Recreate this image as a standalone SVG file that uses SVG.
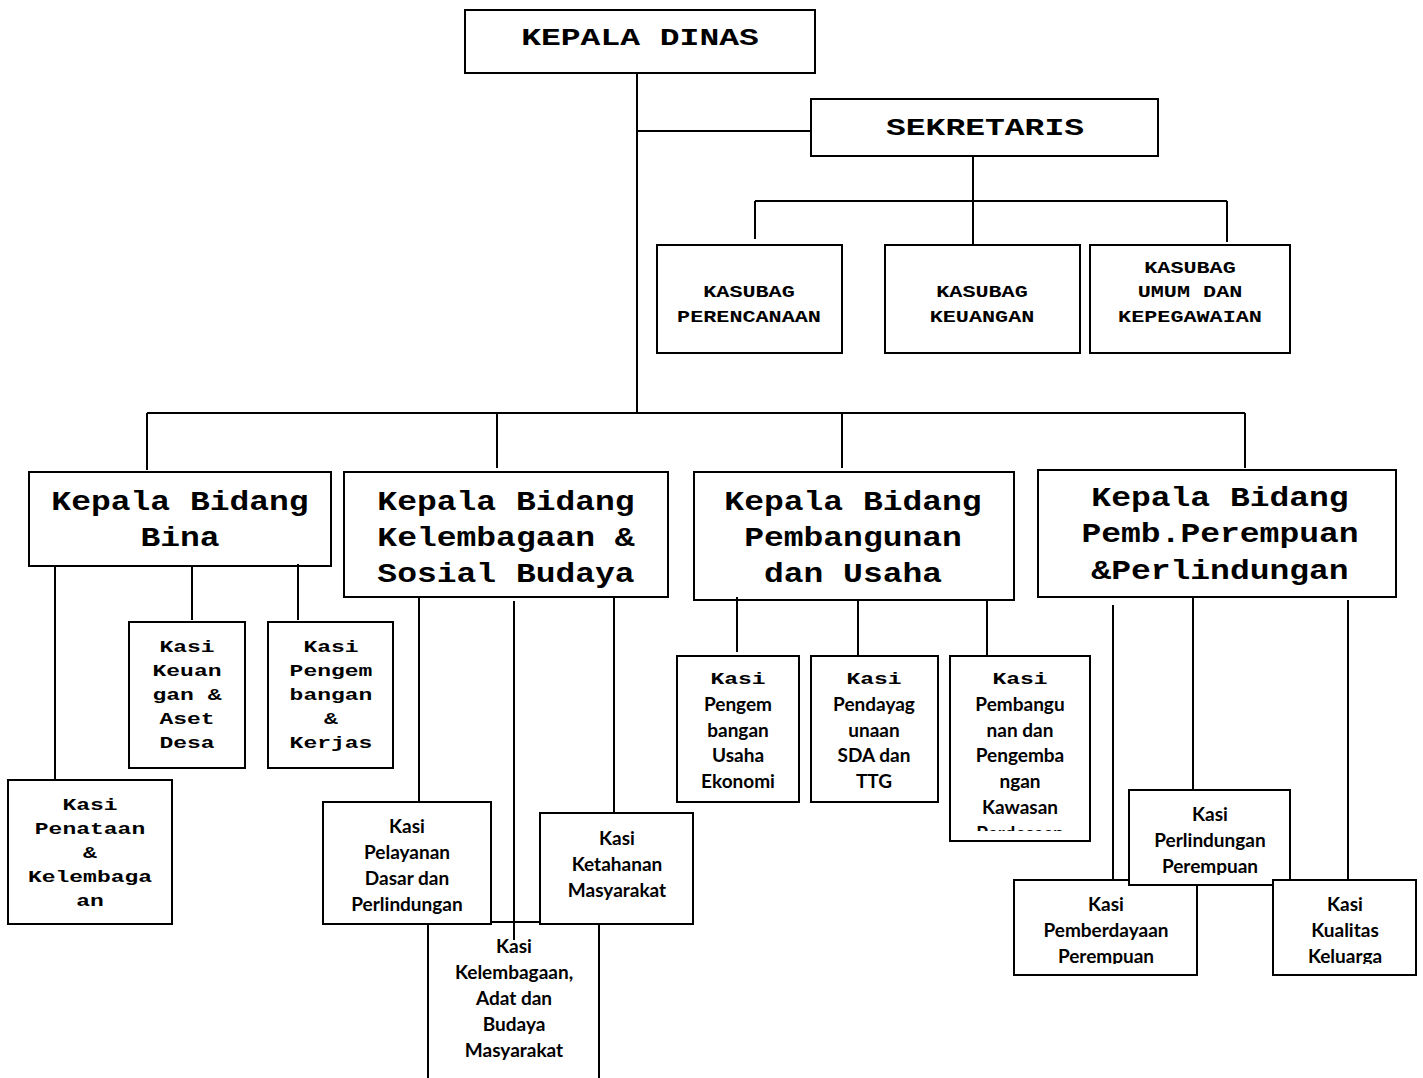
<svg xmlns="http://www.w3.org/2000/svg" width="1423" height="1078" viewBox="0 0 1423 1078">
<style>
.box{fill:#fff;stroke:#000;stroke-width:2}
.ln{stroke:#000;stroke-width:2;fill:none}
text{fill:#000;text-anchor:middle}
.m1{font-family:"Liberation Mono",monospace;font-weight:bold;font-size:33px}
.m2{font-family:"Liberation Mono",monospace;font-weight:bold;font-size:33px}
.m3{font-family:"Liberation Mono",monospace;font-weight:bold;font-size:21.8px}
.m4{font-family:"Liberation Mono",monospace;font-weight:bold;font-size:23px}
.c{font-family:Lato,"Liberation Sans",sans-serif;font-weight:bold;font-size:19px}
</style>
<defs>
<clipPath id="clipKaw"><rect x="950" y="656" width="140" height="175"/></clipPath>
<clipPath id="clipPerl"><rect x="1129" y="790" width="161" height="85"/></clipPath>
<clipPath id="clipPemb"><rect x="1014" y="880" width="183" height="84"/></clipPath>
<clipPath id="clipKual"><rect x="1273" y="880" width="143" height="84"/></clipPath>
</defs>

<g id="kepala-dinas">
<rect class="box" x="465" y="10" width="350" height="63"/>
<text class="m1" transform="translate(640 45) scale(1 .75)">KEPALA DINAS</text>
</g>
<g id="sekretaris">
<rect class="box" x="811" y="99" width="347" height="57"/>
<text class="m1" transform="translate(985 135) scale(1 .75)">SEKRETARIS</text>
</g>
<g id="kasubag-perencanaan">
<rect class="box" x="657" y="245" width="185" height="108"/>
<text class="m3" transform="translate(749 297) scale(1 .75)">KASUBAG</text>
<text class="m3" transform="translate(749 322) scale(1 .75)">PERENCANAAN</text>
</g>
<g id="kasubag-keuangan">
<rect class="box" x="885" y="245" width="195" height="108"/>
<text class="m3" transform="translate(982 297) scale(1 .75)">KASUBAG</text>
<text class="m3" transform="translate(982 322) scale(1 .75)">KEUANGAN</text>
</g>
<g id="kasubag-umum">
<rect class="box" x="1090" y="245" width="200" height="108"/>
<text class="m3" transform="translate(1190 273) scale(1 .75)">KASUBAG</text>
<text class="m3" transform="translate(1190 297) scale(1 .75)">UMUM DAN</text>
<text class="m3" transform="translate(1190 322) scale(1 .75)">KEPEGAWAIAN</text>
</g>

<g id="kabid-bina">
<rect class="box" x="29" y="472" width="302" height="94"/>
<text class="m2" transform="translate(180 510) scale(1 .82)">Kepala Bidang</text>
<text class="m2" transform="translate(180 546) scale(1 .82)">Bina</text>
</g>
<g id="kabid-kelembagaan">
<rect class="box" x="344" y="472" width="324" height="125"/>
<text class="m2" transform="translate(506 510) scale(1 .82)">Kepala Bidang</text>
<text class="m2" transform="translate(506 546) scale(1 .82)">Kelembagaan &amp;</text>
<text class="m2" transform="translate(506 582) scale(1 .82)">Sosial Budaya</text>
</g>
<g id="kabid-pembangunan">
<rect class="box" x="694" y="472" width="320" height="128"/>
<text class="m2" transform="translate(853 510) scale(1 .82)">Kepala Bidang</text>
<text class="m2" transform="translate(853 546) scale(1 .82)">Pembangunan</text>
<text class="m2" transform="translate(853 582) scale(1 .82)">dan Usaha</text>
</g>
<g id="kabid-perempuan">
<rect class="box" x="1038" y="470" width="358" height="127"/>
<text class="m2" transform="translate(1220 506) scale(1 .82)">Kepala Bidang</text>
<text class="m2" transform="translate(1220 542) scale(1 .82)">Pemb.Perempuan</text>
<text class="m2" transform="translate(1220 579) scale(1 .82)">&amp;Perlindungan</text>
</g>

<g id="kasi-keuangan">
<rect class="box" x="129" y="622" width="116" height="146"/>
<text class="m4" transform="translate(187 652) scale(1 .7)">Kasi</text>
<text class="m4" transform="translate(187 676) scale(1 .7)">Keuan</text>
<text class="m4" transform="translate(187 700) scale(1 .7)">gan &amp;</text>
<text class="m4" transform="translate(187 724) scale(1 .7)">Aset</text>
<text class="m4" transform="translate(187 748) scale(1 .7)">Desa</text>
</g>
<g id="kasi-pengembangan-kerjas">
<rect class="box" x="268" y="622" width="125" height="146"/>
<text class="m4" transform="translate(331 652) scale(1 .7)">Kasi</text>
<text class="m4" transform="translate(331 676) scale(1 .7)">Pengem</text>
<text class="m4" transform="translate(331 700) scale(1 .7)">bangan</text>
<text class="m4" transform="translate(331 724) scale(1 .7)">&amp;</text>
<text class="m4" transform="translate(331 748) scale(1 .7)">Kerjas</text>
</g>
<g id="kasi-penataan">
<rect class="box" x="8" y="780" width="164" height="144"/>
<text class="m4" transform="translate(90 810) scale(1 .7)">Kasi</text>
<text class="m4" transform="translate(90 834) scale(1 .7)">Penataan</text>
<text class="m4" transform="translate(90 858) scale(1 .7)">&amp;</text>
<text class="m4" transform="translate(90 882) scale(1 .7)">Kelembaga</text>
<text class="m4" transform="translate(90 906) scale(1 .7)">an</text>
</g>

<g id="kasi-kelembagaan-adat">
<rect class="box" x="428" y="922" width="171" height="180"/>
<text class="c" x="514" y="953">Kasi</text>
<text class="c" x="514" y="979">Kelembagaan,</text>
<text class="c" x="514" y="1005">Adat dan</text>
<text class="c" x="514" y="1031">Budaya</text>
<text class="c" x="514" y="1057">Masyarakat</text>
</g>
<g id="kasi-pelayanan">
<rect class="box" x="323" y="802" width="168" height="122"/>
<text class="c" x="407" y="833">Kasi</text>
<text class="c" x="407" y="859">Pelayanan</text>
<text class="c" x="407" y="885">Dasar dan</text>
<text class="c" x="407" y="911">Perlindungan</text>
</g>
<g id="kasi-ketahanan">
<rect class="box" x="540" y="813" width="153" height="111"/>
<text class="c" x="617" y="845">Kasi</text>
<text class="c" x="617" y="871">Ketahanan</text>
<text class="c" x="617" y="897">Masyarakat</text>
</g>

<g id="kasi-pengembangan-usaha">
<rect class="box" x="677" y="656" width="122" height="146"/>
<text class="m4" transform="translate(738 684) scale(1 .7)">Kasi</text>
<text class="c" x="738" y="711">Pengem</text>
<text class="c" x="738" y="737">bangan</text>
<text class="c" x="738" y="762">Usaha</text>
<text class="c" x="738" y="788">Ekonomi</text>
</g>
<g id="kasi-pendayagunaan">
<rect class="box" x="811" y="656" width="127" height="146"/>
<text class="m4" transform="translate(874 684) scale(1 .7)">Kasi</text>
<text class="c" x="874" y="711">Pendayag</text>
<text class="c" x="874" y="737">unaan</text>
<text class="c" x="874" y="762">SDA dan</text>
<text class="c" x="874" y="788">TTG</text>
</g>
<g id="kasi-pembangunan-kawasan">
<rect class="box" x="950" y="656" width="140" height="185"/>
<g clip-path="url(#clipKaw)">
<text class="m4" transform="translate(1020 684) scale(1 .7)">Kasi</text>
<text class="c" x="1020" y="711">Pembangu</text>
<text class="c" x="1020" y="737">nan dan</text>
<text class="c" x="1020" y="762">Pengemba</text>
<text class="c" x="1020" y="788">ngan</text>
<text class="c" x="1020" y="814">Kawasan</text>
<text class="c" x="1020" y="840">Perdesaan</text>
</g>
</g>

<g id="kasi-pemberdayaan">
<rect class="box" x="1014" y="880" width="183" height="95"/>
<g clip-path="url(#clipPemb)">
<text class="c" x="1106" y="911">Kasi</text>
<text class="c" x="1106" y="937">Pemberdayaan</text>
<text class="c" x="1106" y="963">Perempuan</text>
</g>
</g>
<g id="kasi-perlindungan">
<rect class="box" x="1129" y="790" width="161" height="95"/>
<g clip-path="url(#clipPerl)">
<text class="c" x="1210" y="821">Kasi</text>
<text class="c" x="1210" y="847">Perlindungan</text>
<text class="c" x="1210" y="873">Perempuan</text>
</g>
</g>
<g id="kasi-kualitas">
<rect class="box" x="1273" y="880" width="143" height="95"/>
<g clip-path="url(#clipKual)">
<text class="c" x="1345" y="911">Kasi</text>
<text class="c" x="1345" y="937">Kualitas</text>
<text class="c" x="1345" y="963">Keluarga</text>
</g>
</g>

<g id="connectors" class="ln">
<line x1="637" y1="73" x2="637" y2="413"/>
<line x1="637" y1="131" x2="811" y2="131"/>
<line x1="973" y1="156" x2="973" y2="245"/>
<line x1="755" y1="201" x2="1227" y2="201"/>
<line x1="755" y1="201" x2="755" y2="239"/>
<line x1="1227" y1="201" x2="1227" y2="242"/>
<line x1="147" y1="413" x2="1245" y2="413"/>
<line x1="147" y1="413" x2="147" y2="470"/>
<line x1="497" y1="413" x2="497" y2="468"/>
<line x1="842" y1="413" x2="842" y2="468"/>
<line x1="1245" y1="413" x2="1245" y2="468"/>
<line x1="55" y1="566" x2="55" y2="780"/>
<line x1="192" y1="566" x2="192" y2="620"/>
<line x1="298" y1="564" x2="298" y2="620"/>
<line x1="419" y1="597" x2="419" y2="802"/>
<line x1="514" y1="601" x2="514" y2="940"/>
<line x1="614" y1="597" x2="614" y2="813"/>
<line x1="737" y1="597" x2="737" y2="652"/>
<line x1="858" y1="600" x2="858" y2="656"/>
<line x1="987" y1="600" x2="987" y2="655"/>
<line x1="1113" y1="605" x2="1113" y2="879"/>
<line x1="1193" y1="597" x2="1193" y2="790"/>
<line x1="1348" y1="600" x2="1348" y2="879"/>
</g>
</svg>
